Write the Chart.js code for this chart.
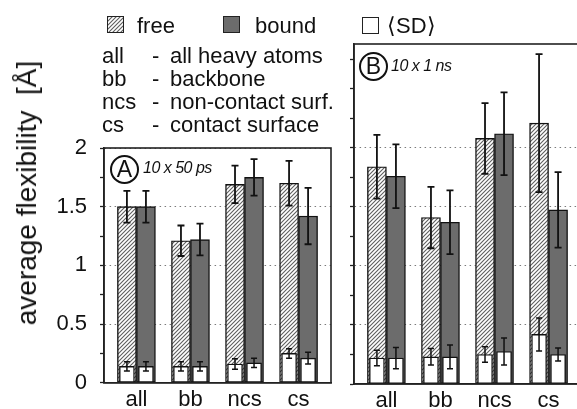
<!DOCTYPE html>
<html>
<head>
<meta charset="utf-8">
<script src="https://cdn.jsdelivr.net/npm/chart.js@4.4.1/dist/chart.umd.min.js"></script>
<style>
  html, body { margin: 0; padding: 0; background: #fff; overflow: hidden; }
  body { width: 577px; height: 409px; position: relative; font-family: "Liberation Sans", Arial, sans-serif; color: #111; }
  canvas { position: absolute; top: 0; }
  #chartA { left: 0; }
  #chartB { left: 344px; }
  .txt { position: absolute; font-size: 22px; line-height: 23px; white-space: pre; z-index: 2; }
  .sw { position: absolute; width: 15px; height: 15px; border: 1.5px solid #222; z-index: 2; }
  .circ { position: absolute; width: 25px; height: 25px; border: 2px solid #111; border-radius: 50%;
          font-size: 23px; line-height: 25px; text-align: center; z-index: 2; }
  .run { position: absolute; font-style: italic; font-size: 16px; line-height: 18px; letter-spacing: -0.5px; white-space: pre; z-index: 2; }
  #ytitle { position: absolute; left: 27px; top: 193px; font-size: 28px; white-space: pre;
            transform: translate(-50%, -50%) rotate(-90deg); z-index: 2; }
</style>
</head>
<body>
<canvas id="chartA" width="340" height="409"></canvas>
<canvas id="chartB" width="244" height="409"></canvas>

<div id="ytitle">average flexibility  [Å]</div>

<div class="sw" id="swFree" style="left:107px; top:16px;"></div>
<div class="txt" style="left:137px; top:14px;">free</div>
<div class="sw" style="left:223px; top:16px; background:#6c6c6c;"></div>
<div class="txt" style="left:255px; top:14px;">bound</div>
<div class="sw" style="left:362px; top:17px; background:#fff;"></div>
<div class="txt" style="left:387px; top:14px;">⟨SD⟩</div>

<div id="legendRows"></div>

<div class="circ" style="left:110px; top:155px;">A</div>
<div class="run" style="left:143px; top:159px;">10 x 50 ps</div>
<div class="circ" style="left:359px; top:52px;">B</div>
<div class="run" style="left:391px; top:57px;">10 x 1 ns</div>

<script>
// categories and the index used for each on the linear x axis
const categories = ['all', 'bb', 'ncs', 'cs'];
const positions = [0, 1, 2, 3];
const descriptions = ['all heavy atoms', 'backbone', 'non-contact surf.', 'contact surface'];

// y tick labels
const yTickValues = [0, 0.5, 1, 1.5, 2];
const yTickLabels = ['0', '0.5', '1', '1.5', '2'];
const yGridValues = [0.5, 1, 1.5, 2];

// panel A: 10 x 50 ps
const freeA = [1.50, 1.21, 1.69, 1.70];
const freeAErr = [0.135, 0.13, 0.16, 0.19];
const boundA = [1.50, 1.22, 1.75, 1.42];
const boundAErr = [0.135, 0.135, 0.155, 0.24];
const sdFreeA = [0.14, 0.14, 0.16, 0.25];
const sdFreeAErr = [0.04, 0.04, 0.045, 0.04];
const sdBoundA = [0.14, 0.14, 0.17, 0.21];
const sdBoundAErr = [0.04, 0.04, 0.04, 0.05];

// panel B: 10 x 1 ns
const freeB = [1.84, 1.41, 2.08, 2.21];
const freeBErr = [0.27, 0.26, 0.30, 0.585];
const boundB = [1.76, 1.37, 2.12, 1.475];
const boundBErr = [0.27, 0.27, 0.35, 0.32];
const sdFreeB = [0.22, 0.23, 0.25, 0.42];
const sdFreeBErr = [0.065, 0.07, 0.065, 0.14];
const sdBoundB = [0.22, 0.23, 0.275, 0.25];
const sdBoundBErr = [0.09, 0.10, 0.115, 0.055];

Chart.defaults.font.family = '"Liberation Sans", Arial, sans-serif';
Chart.defaults.color = '#111';

// legend rows (abbreviation - description)
const rows = document.getElementById('legendRows');
categories.forEach((c, i) => {
  const top = 44 + i * 23;
  rows.insertAdjacentHTML('beforeend',
    `<div class="txt" style="left:102px; top:${top}px;">${c}</div>` +
    `<div class="txt" style="left:152px; top:${top}px;">-</div>` +
    `<div class="txt" style="left:170px; top:${top}px;">${descriptions[i]}</div>`);
});

// diagonal hatch for the "free" bars
function makeHatch() {
  const c = document.createElement('canvas');
  c.width = 4; c.height = 4;
  const g = c.getContext('2d');
  g.fillStyle = '#fff';
  g.fillRect(0, 0, 4, 4);
  g.strokeStyle = '#5e5e5e';
  g.lineWidth = 1.1;
  g.beginPath();
  g.moveTo(0, 4); g.lineTo(4, 0);
  g.moveTo(-1, 1); g.lineTo(1, -1);
  g.moveTo(3, 5); g.lineTo(5, 3);
  g.stroke();
  return c;
}
const hatchCanvas = makeHatch();
document.getElementById('swFree').style.background = `url(${hatchCanvas.toDataURL()})`;

// error bars drawn from each dataset's "errors" array
const errorBars = {
  id: 'errorBars',
  afterDatasetsDraw(chart) {
    const ctx = chart.ctx;
    const y = chart.scales.y;
    chart.data.datasets.forEach((ds, d) => {
      if (!ds.errors) return;
      chart.getDatasetMeta(d).data.forEach((bar, i) => {
        const top = y.getPixelForValue(ds.data[i] + ds.errors[i]);
        const bot = y.getPixelForValue(ds.data[i] - ds.errors[i]);
        const cap = ds.capWidth / 2;
        ctx.save();
        ctx.strokeStyle = '#111';
        ctx.lineWidth = ds.errWidth;
        ctx.beginPath();
        ctx.moveTo(bar.x, top); ctx.lineTo(bar.x, bot);
        ctx.moveTo(bar.x - cap, top); ctx.lineTo(bar.x + cap, top);
        ctx.moveTo(bar.x - cap, bot); ctx.lineTo(bar.x + cap, bot);
        ctx.stroke();
        ctx.restore();
      });
    });
  }
};

// box around the plot area
const frame = {
  id: 'frame',
  afterDatasetsDraw(chart) {
    const { ctx, chartArea: a } = chart;
    ctx.save();
    ctx.strokeStyle = '#222';
    ctx.lineWidth = 1.6;
    ctx.strokeRect(a.left, a.top, a.right - a.left, a.bottom - a.top);
    ctx.restore();
  }
};

function minorTicks(top) {
  const t = [];
  for (let v = 0; v <= top + 1e-9; v += 0.25) t.push({ value: v });
  return t;
}

// x range and the half-width of one bar slot, in category units
const X_MIN = -0.6, X_MAX = 3.6;
const HALF_SLOT = 0.176;

function xAxis(shift, extra) {
  return {
    type: 'linear', min: X_MIN + shift, max: X_MAX + shift, position: 'bottom', offset: false,
    afterBuildTicks: s => { s.ticks = positions.map(v => ({ value: v })); },
    grid: { display: false, drawTicks: false, offset: false },
    ...extra
  };
}

function buildChart(id, p) {
  const ctx = document.getElementById(id).getContext('2d');
  const hatch = ctx.createPattern(hatchCanvas, 'repeat');
  const common = { grouped: false, borderColor: '#111', borderWidth: 1.4, borderSkipped: false };
  const mainBar = { ...common, barThickness: 19, order: 2, capWidth: 7, errWidth: 1.8 };
  const sdBar = { ...common, backgroundColor: '#fff', barThickness: 15, order: 1, capWidth: 6, errWidth: 1.5 };
  return new Chart(ctx, {
    type: 'bar',
    data: {
      labels: positions,
      datasets: [
        { ...mainBar, label: 'free', xAxisID: 'xFree', data: p.free, errors: p.freeErr, backgroundColor: hatch },
        { ...mainBar, label: 'bound', xAxisID: 'xBound', data: p.bound, errors: p.boundErr, backgroundColor: '#6c6c6c' },
        { ...sdBar, label: 'SD free', xAxisID: 'xFree', data: p.sdFree, errors: p.sdFreeErr },
        { ...sdBar, label: 'SD bound', xAxisID: 'xBound', data: p.sdBound, errors: p.sdBoundErr }
      ]
    },
    options: {
      responsive: false,
      animation: false,
      devicePixelRatio: 1,
      layout: { padding: p.padding },
      plugins: { legend: { display: false }, tooltip: { enabled: false } },
      scales: {
        x: xAxis(0, {
          afterFit: s => { s.height = 25; },
          border: { color: '#222', width: 1.6 },
          ticks: { padding: 4, autoSkip: false, maxRotation: 0, font: { size: 22 }, color: '#111',
                   callback: v => categories[v] }
        }),
        xFree: xAxis(HALF_SLOT, { display: false }),
        xBound: xAxis(-HALF_SLOT, { display: false }),
        y: {
          min: 0, max: p.yMax, stacked: false,
          afterBuildTicks: s => { s.ticks = minorTicks(p.tickTop); },
          afterFit: s => { s.width = p.yWidth; },
          ticks: { display: p.showLabels, padding: 13, autoSkip: false, font: { size: 22 }, color: '#111',
                   callback: v => { const k = yTickValues.indexOf(v); return k >= 0 ? yTickLabels[k] : ''; } },
          grid: { color: c => (yGridValues.includes(c.tick.value) ? '#7a7a7a' : 'rgba(0,0,0,0)'),
                  tickColor: '#222', tickLength: 4, lineWidth: 1, tickWidth: 1.3, tickBorderDash: [] },
          border: { color: '#222', width: 1.6, dash: [1.5, 3.5] }
        }
      }
    },
    plugins: [errorBars, frame]
  });
}

buildChart('chartA', {
  free: freeA, freeErr: freeAErr, bound: boundA, boundErr: boundAErr,
  sdFree: sdFreeA, sdFreeErr: sdFreeAErr, sdBound: sdBoundA, sdBoundErr: sdBoundAErr,
  yMax: 2, tickTop: 2, yWidth: 104, showLabels: true,
  padding: { left: 0, top: 148, right: 9, bottom: 0 }
});

buildChart('chartB', {
  free: freeB, freeErr: freeBErr, bound: boundB, boundErr: boundBErr,
  sdFree: sdFreeB, sdFreeErr: sdFreeBErr, sdBound: sdBoundB, sdBoundErr: sdBoundBErr,
  yMax: 2.88, tickTop: 2.75, yWidth: 10, showLabels: false,
  padding: { left: 0, top: 44, right: 7, bottom: 0 }
});
</script>
</body>
</html>
